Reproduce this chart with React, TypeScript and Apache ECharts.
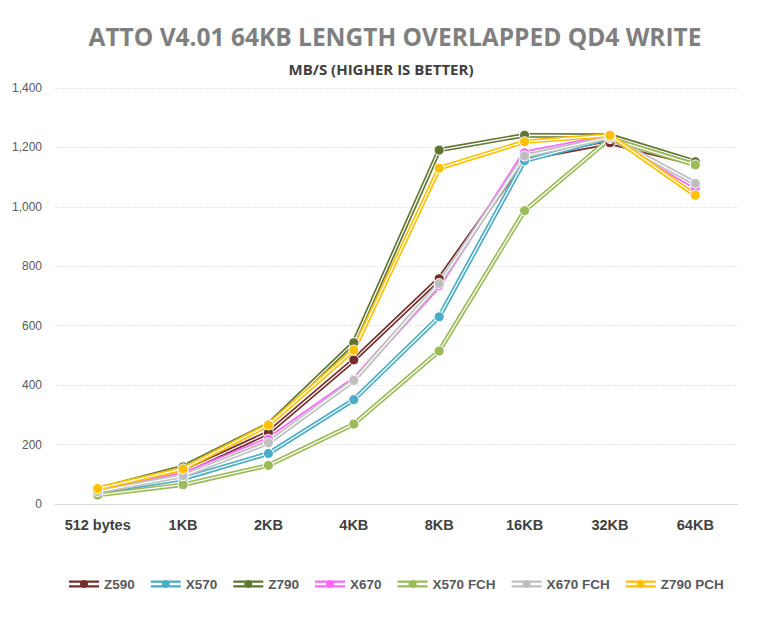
import React, { useEffect, useRef } from "react";
import * as echarts from "echarts";

const categories = ["512 bytes", "1KB", "2KB", "4KB", "8KB", "16KB", "32KB", "64KB"];
const seriesNames = ["Z590", "X570", "Z790", "X670", "X570 FCH", "X670 FCH", "Z790 PCH"];
const seriesColors = ["#772E2B", "#4BACC6", "#5F7530", "#FF66FF", "#9BBB59", "#BFBFBF", "#FFC000"];
const z590 = [45, 108, 240, 485, 758, 1162, 1216, 1145];
const x570 = [40, 85, 170, 351, 630, 1155, 1232, 1072];
const z790 = [50, 125, 268, 543, 1191, 1241, 1240, 1152];
const x670 = [45, 100, 218, 420, 735, 1182, 1236, 1066];
const x570fch = [30, 65, 130, 269, 515, 987, 1230, 1141];
const x670fch = [42, 95, 206, 416, 742, 1171, 1234, 1079];
const z790pch = [52, 118, 266, 518, 1130, 1219, 1241, 1039];
const seriesValues = [z590, x570, z790, x670, x570fch, x670fch, z790pch];

const legendIcon =
  "path://M0,2h30v2.2h-30z M0,6.8h30v2.2h-30z M11,5.5a4,4 0 1,1 8,0a4,4 0 1,1 -8,0z";

export default function App() {
  const ref = useRef<HTMLDivElement>(null);
  useEffect(() => {
    if (!ref.current) return;
    const chart = echarts.init(ref.current, undefined, { renderer: "svg" });
    const series: any[] = [];
    seriesNames.forEach((name, i) => {
      const color = seriesColors[i];
      series.push({
        name,
        type: "line",
        data: seriesValues[i],
        showSymbol: false,
        symbol: "none",
        itemStyle: { color },
        lineStyle: { color, width: 4.6 },
      });
      series.push({
        name: name + "_inner",
        type: "line",
        data: seriesValues[i],
        symbol: "circle",
        symbolSize: 10,
        itemStyle: { color, borderColor: "#ffffff", borderWidth: 1 },
        lineStyle: { color: "#ffffff", width: 1.3 },
      });
    });
    chart.setOption({
      animation: false,
      backgroundColor: "#ffffff",
      graphic: [
        {
          type: "text",
          x: 387,
          y: 28,
          style: {
            text: "ATTO V4.01 64KB LENGTH OVERLAPPED QD4 WRITE",
            textAlign: "center",
            textVerticalAlign: "middle",
            fontFamily: "Open Sans",
            fontWeight: "bold",
            fontSize: 24.5,
            fill: "#7F7F7F",
          },
        },
        {
          type: "text",
          x: 373,
          y: 61,
          style: {
            text: "MB/S (HIGHER IS BETTER)",
            textAlign: "center",
            textVerticalAlign: "middle",
            fontFamily: "Open Sans",
            fontWeight: "bold",
            fontSize: 15,
            fill: "#404040",
          },
        },
      ],
      grid: { left: 47, right: 27, top: 80, bottom: 105 },
      legend: {
        data: seriesNames,
        top: 564,
        left: 56,
        icon: legendIcon,
        itemWidth: 30,
        itemHeight: 11,
        itemGap: 16,
        textStyle: {
          fontFamily: "Liberation Sans",
          fontWeight: "bold",
          fontSize: 13.5,
          color: "#595959",
        },
      },
      xAxis: {
        type: "category",
        data: categories,
        boundaryGap: true,
        axisLine: { lineStyle: { color: "#D9D9D9", width: 1 } },
        axisTick: { show: false },
        axisLabel: {
          interval: 0,
          margin: 13,
          fontFamily: "Liberation Sans",
          fontWeight: "bold",
          fontSize: 14.5,
          color: "#404040",
        },
      },
      yAxis: {
        type: "value",
        min: 0,
        max: 1400,
        interval: 200,
        axisLine: { show: false },
        axisTick: { show: false },
        splitLine: { lineStyle: { color: "#E8E8E8", type: "dashed" } },
        axisLabel: {
          margin: 13,
          fontFamily: "Liberation Sans Narrow, Liberation Sans",
          fontSize: 12,
          color: "#595959",
          formatter: (v: number) => v.toLocaleString("en-US"),
        },
      },
      series,
    });
    return () => chart.dispose();
  }, []);
  return <div ref={ref} style={{ width: 757, height: 601 }} />;
}
